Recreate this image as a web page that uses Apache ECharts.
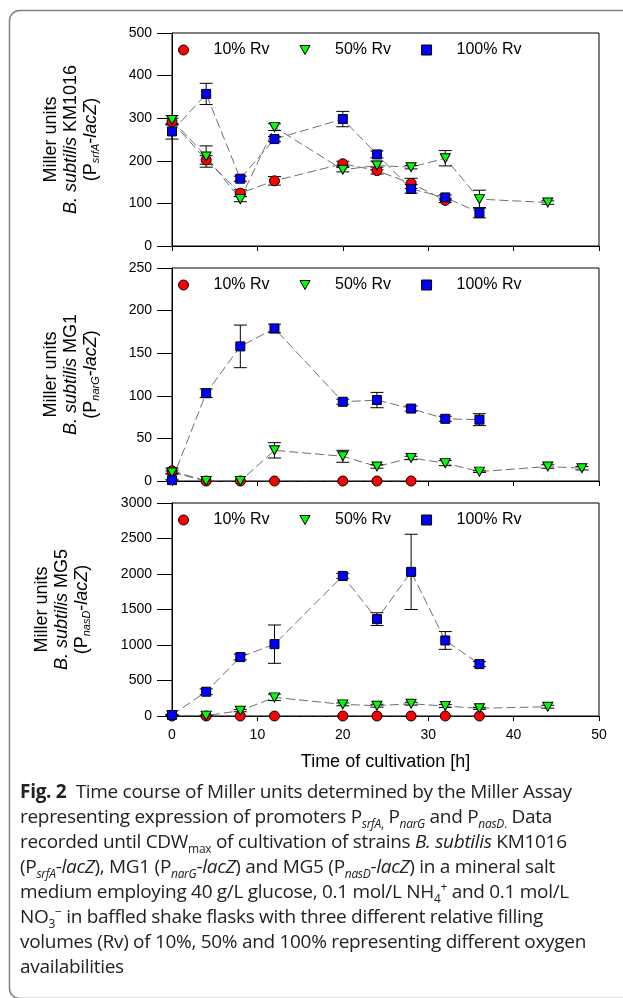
<!DOCTYPE html>
<html>
<head>
<meta charset="utf-8">
<script src="https://cdn.jsdelivr.net/npm/echarts@6/dist/echarts.min.js"></script>
<style>
  html, body { margin: 0; padding: 0; background: #fff; }
  #wrap { position: relative; width: 623px; height: 998px; overflow: hidden; }
  #chart { position: absolute; left: 0; top: 0; width: 623px; height: 998px; }
  #caption {
    position: absolute; left: 20px; top: 779px;
    font-family: "Open Sans", sans-serif; font-size: 19px; line-height: 25px;
    letter-spacing: -0.3px; color: #222; white-space: nowrap;
  }
  #caption sub, #caption sup { font-size: 12px; line-height: 0; }
</style>
</head>
<body>
<div id="wrap">
  <div id="chart"></div>
  <div id="caption">
    <b>Fig. 2</b>&nbsp; Time course of Miller units determined by the Miller Assay<br>
    representing expression of promoters P<sub><i>srfA</i>,</sub> P<sub><i>narG</i></sub> and P<sub><i>nasD</i>.</sub> Data<br>
    recorded until CDW<sub>max</sub> of cultivation of strains <i>B. subtilis</i> KM1016<br>
    (P<sub><i>srfA</i></sub>-<i>lacZ</i>), MG1 (P<sub><i>narG</i></sub>-<i>lacZ</i>) and MG5 (P<sub><i>nasD</i></sub>-<i>lacZ</i>) in a mineral salt<br>
    medium employing 40 g/L glucose, 0.1 mol/L NH<sub>4</sub><sup>+</sup> and 0.1 mol/L<br>
    NO<sub>3</sub><sup>&minus;</sup> in baffled shake flasks with three different relative filling<br>
    volumes (Rv) of 10%, 50% and 100% representing different oxygen<br>
    availabilities
  </div>
</div>
<script>
// series names
const names = ["10% Rv", "50% Rv", "100% Rv"];

// KM1016 (PsrfA-lacZ)
const srfA_t10 = [0, 4, 8, 12, 20, 24, 28, 32];
const srfA_v10 = [292, 202, 124, 153, 193, 177, 147, 107];
const srfA_e10 = [8, 10, 8, 10, 6, 8, 12, 5];
const srfA_t50 = [0, 4, 8, 12, 20, 24, 28, 32, 36, 44];
const srfA_v50 = [296, 210, 110, 279, 179, 189, 185, 206, 110, 102];
const srfA_e50 = [10, 25, 6, 8, 5, 10, 4, 18, 21, 4];
const srfA_t100 = [0, 4, 8, 12, 20, 24, 28, 32, 36];
const srfA_v100 = [269, 357, 158, 251, 298, 215, 134, 114, 78];
const srfA_e100 = [18, 25, 6, 6, 18, 8, 10, 6, 12];

// MG1 (PnarG-lacZ)
const narG_t10 = [0, 4, 8, 12, 20, 24, 28];
const narG_v10 = [12, 0, 0, 0, 0, 0, 0];
const narG_e10 = [3, 0, 0, 0, 0, 0, 0];
const narG_t50 = [0, 4, 8, 12, 20, 24, 28, 32, 36, 44, 48];
const narG_v50 = [10, 0, 0, 36, 29, 17, 27, 21, 11, 17, 15];
const narG_e50 = [2, 0, 0, 9, 7, 2, 2, 3, 1, 2, 2];
const narG_t100 = [0, 4, 8, 12, 20, 24, 28, 32, 36];
const narG_v100 = [1, 103, 158, 179, 93, 95, 85, 73, 72];
const narG_e100 = [1, 5, 25, 5, 3, 9, 3, 3, 7];

// MG5 (PnasD-lacZ)
const nasD_t10 = [0, 4, 8, 12, 20, 24, 28, 32, 36];
const nasD_v10 = [0, 0, 0, 0, 0, 0, 0, 0, 0];
const nasD_e10 = [0, 0, 0, 0, 0, 0, 0, 0, 0];
const nasD_t50 = [0, 4, 8, 12, 20, 24, 28, 32, 36, 44];
const nasD_v50 = [10, 5, 75, 262, 164, 145, 173, 140, 108, 131];
const nasD_e50 = [5, 5, 15, 45, 20, 20, 20, 20, 15, 20];
const nasD_t100 = [0, 4, 8, 12, 20, 24, 28, 32, 36];
const nasD_v100 = [14, 342, 830, 1012, 1973, 1364, 2030, 1064, 731];
const nasD_e100 = [10, 40, 40, 270, 35, 90, 530, 125, 35];

// x ticks / y ticks
const xMax = 50, xStep = 10;
const yMax = [500, 250, 3000];
const yStep = [100, 50, 500];

const FONT = "'Liberation Sans', Arial, sans-serif";
const triPath = "path://M0,0L10,0L5,9Z";
const symbols = ["circle", triPath, "rect"];
const symSizes = [10, [10, 9], 9];
const colors = ["#ff0000", "#00ff00", "#0000ff"];

const panels = [
  [[srfA_t10, srfA_v10, srfA_e10], [srfA_t50, srfA_v50, srfA_e50], [srfA_t100, srfA_v100, srfA_e100]],
  [[narG_t10, narG_v10, narG_e10], [narG_t50, narG_v50, narG_e50], [narG_t100, narG_v100, narG_e100]],
  [[nasD_t10, nasD_v10, nasD_e10], [nasD_t50, nasD_v50, nasD_e50], [nasD_t100, nasD_v100, nasD_e100]]
];

const gridTops = [33, 268, 503];
const gridH = 213;

function errRender(params, api) {
  const x = api.value(0), y = api.value(1), e = api.value(2);
  if (!e) return null;
  const hi = api.coord([x, y + e]);
  const lo = api.coord([x, y - e]);
  const w = 6.5;
  const st = { stroke: "#000", lineWidth: 1 };
  return {
    type: "group",
    children: [
      { type: "line", shape: { x1: hi[0], y1: hi[1], x2: lo[0], y2: lo[1] }, style: st },
      { type: "line", shape: { x1: hi[0] - w, y1: hi[1], x2: hi[0] + w, y2: hi[1] }, style: st },
      { type: "line", shape: { x1: lo[0] - w, y1: lo[1], x2: lo[0] + w, y2: lo[1] }, style: st }
    ]
  };
}

const grid = [], xAxis = [], yAxis = [], legend = [], series = [];
panels.forEach(function (panel, p) {
  grid.push({ left: 172, right: 24, top: gridTops[p], height: gridH, show: true,
    borderColor: "#000", borderWidth: 1, outerBoundsMode: "none" });
  xAxis.push({
    type: "value", gridIndex: p, min: 0, max: xMax, interval: xStep,
    axisLine: { onZero: false, lineStyle: { color: "#000", width: 1 } },
    axisTick: { inside: false, length: 5, lineStyle: { color: "#000" } },
    axisLabel: { show: p === 2, color: "#000", fontSize: 14, fontFamily: FONT, margin: 12 },
    splitLine: { show: false },
    name: p === 2 ? "Time of cultivation [h]" : "",
    nameLocation: "middle", nameGap: 37,
    nameTextStyle: { color: "#000", fontSize: 18, fontFamily: FONT }
  });
  yAxis.push({
    type: "value", gridIndex: p, min: 0, max: yMax[p], interval: yStep[p],
    axisLine: { show: true, lineStyle: { color: "#000", width: 1 } },
    axisTick: { inside: false, length: 15, lineStyle: { color: "#000" } },
    axisLabel: { color: "#000", fontSize: 14, fontFamily: FONT, margin: 20,
      formatter: function (v) { return String(v); } },
    splitLine: { show: false }
  });
  legend.push({
    top: gridTops[p] + 9, left: 178, padding: 0, itemGap: 30,
    itemWidth: 10, itemHeight: 10, selectedMode: false,
    textStyle: { color: "#000", fontSize: 16, fontFamily: FONT, padding: [0, 0, 0, 20] },
    data: names.map(function (n, i) {
      return { name: n, icon: symbols[i],
        itemStyle: { color: colors[i], borderColor: "#000", borderWidth: 1 } };
    })
  });
  panel.forEach(function (s, i) {
    const pts = s[0].map(function (t, k) { return [t, s[1][k], s[2][k]]; });
    series.push({
      name: names[i], type: "line", xAxisIndex: p, yAxisIndex: p, z: 2,
      data: pts, showSymbol: false, symbol: "none", silent: true,
      lineStyle: { color: "#6e6e6e", width: 1, type: [9, 4] }
    });
    series.push({
      name: names[i], type: "custom", xAxisIndex: p, yAxisIndex: p, z: 3,
      data: pts, encode: { x: 0, y: 1 }, renderItem: errRender, silent: true
    });
    series.push({
      name: names[i], type: "scatter", xAxisIndex: p, yAxisIndex: p, z: 4 + i,
      data: pts, symbol: symbols[i], symbolSize: symSizes[i],
      itemStyle: { color: colors[i], borderColor: "#000", borderWidth: 1, opacity: 1 }
    });
  });
});

// rotated y-axis titles
const yTitles = [
  "Miller units\n{i|B. subtilis} KM1016\n(P{s|srfA}-{i|lacZ})",
  "Miller units\n{i|B. subtilis} MG1\n(P{s|narG}-{i|lacZ})",
  "Miller units\n{i|B. subtilis} MG5\n(P{s|nasD}-{i|lacZ})"
];
const yTitleX = [71, 71, 62];
const graphic = [{
  type: "rect", silent: true,
  shape: { x: 9.5, y: 10.5, width: 700, height: 988, r: 10 },
  style: { fill: "none", stroke: "#808080", lineWidth: 1.5 }
}];
yTitles.forEach(function (t, p) {
  graphic.push({
    type: "text", x: yTitleX[p], y: gridTops[p] + gridH / 2, rotation: Math.PI / 2,
    style: {
      text: t, align: "center", verticalAlign: "middle",
      fontSize: 18, fontFamily: FONT, lineHeight: 20, fill: "#000",
      rich: {
        i: { fontStyle: "italic", fontSize: 18, fontFamily: FONT, lineHeight: 20, fill: "#000" },
        s: { fontStyle: "italic", fontSize: 11, fontFamily: FONT, lineHeight: 20, verticalAlign: "bottom", fill: "#000" }
      }
    }
  });
});

const chart = echarts.init(document.getElementById("chart"));
chart.setOption({
  animation: false,
  grid: grid, xAxis: xAxis, yAxis: yAxis, legend: legend,
  graphic: graphic, series: series
});
window.addEventListener("resize", function () { chart.resize(); });
</script>
</body>
</html>
